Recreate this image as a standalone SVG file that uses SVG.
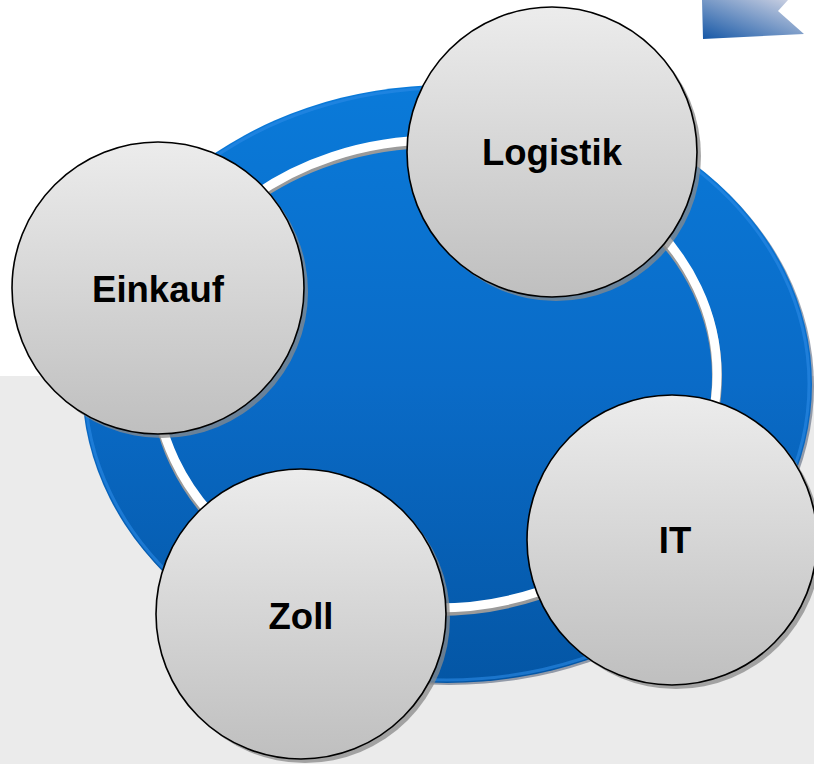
<svg xmlns="http://www.w3.org/2000/svg" width="814" height="764" viewBox="0 0 814 764">
  <defs>
    <linearGradient id="blueG" x1="0" y1="0" x2="0" y2="1">
      <stop offset="0" stop-color="#0a7ad9"/>
      <stop offset="0.5" stop-color="#0a6bc7"/>
      <stop offset="1" stop-color="#0456a5"/>
    </linearGradient>
    <linearGradient id="circG" x1="0" y1="0" x2="0" y2="1">
      <stop offset="0" stop-color="#ececec"/>
      <stop offset="1" stop-color="#bfbfbf"/>
    </linearGradient>
    <linearGradient id="arrowG" x1="0" y1="1" x2="1" y2="0">
      <stop offset="0" stop-color="#1557a6"/>
      <stop offset="1" stop-color="#d6d8e6"/>
    </linearGradient>
    <style>
      .node circle.face { fill: url(#circG); stroke: #000; stroke-width: 1.6; }
      .node circle.shadow { fill: #8a8a8a; opacity: 0.75; }
      .node text { font-family: "Liberation Sans", Arial, sans-serif; font-weight: bold; font-size: 36.5px; fill: #000; text-anchor: middle; }
    </style>
  </defs>

  <rect x="0" y="0" width="814" height="764" fill="#ffffff"/>
  <rect x="0" y="376" width="814" height="388" fill="#ebebeb"/>

  <polygon points="702,0 788,0 778,11 804,34 703,39" fill="url(#arrowG)"/>

  <g id="ring">
    <ellipse cx="449" cy="386" rx="365" ry="299" fill="#3a4a66" opacity="0.5"/>
    <ellipse cx="447" cy="384" rx="365" ry="299" fill="url(#blueG)"/>
    <ellipse cx="447" cy="384" rx="362" ry="296" fill="none" stroke="#2b8be6" stroke-width="3" opacity="0.6"/>
    <ellipse cx="436" cy="377" rx="281" ry="234" fill="none" stroke="#9a9a9a" stroke-width="10"/>
    <ellipse cx="436" cy="374" rx="281" ry="234" fill="none" stroke="#ffffff" stroke-width="9"/>
  </g>

  <g id="connectors"></g>

  <g id="node-logistik" class="node">
    <circle class="shadow" cx="556" cy="156" r="145"/>
    <circle class="face" cx="552" cy="152" r="145"/>
    <text x="552" y="165">Logistik</text>
  </g>
  <g id="node-einkauf" class="node">
    <circle class="shadow" cx="162" cy="292" r="146"/>
    <circle class="face" cx="158" cy="288" r="146"/>
    <text x="158" y="302">Einkauf</text>
  </g>
  <g id="node-it" class="node">
    <circle class="shadow" cx="676" cy="544" r="145"/>
    <circle class="face" cx="672" cy="540" r="145"/>
    <text x="675" y="553">IT</text>
  </g>
  <g id="node-zoll" class="node">
    <circle class="shadow" cx="305" cy="618" r="145"/>
    <circle class="face" cx="301" cy="614" r="145"/>
    <text x="301" y="629">Zoll</text>
  </g>
</svg>
